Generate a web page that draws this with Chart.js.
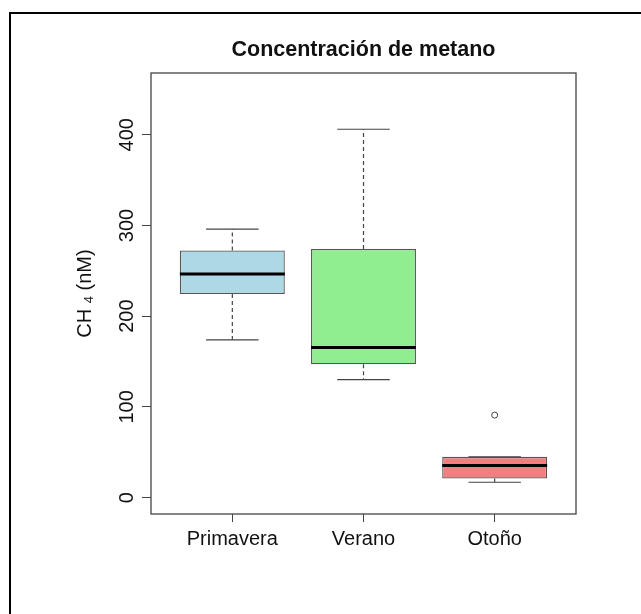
<!DOCTYPE html>
<html>
<head>
<meta charset="utf-8">
<script src="https://cdn.jsdelivr.net/npm/chart.js@4.4.1/dist/chart.umd.min.js"></script>
<style>
  html, body { margin: 0; padding: 0; background: #fff; }
  #wrap { width: 641px; height: 614px; }
</style>
</head>
<body>
<div id="wrap"><canvas id="chart" width="641" height="614"></canvas></div>
<script>
// Box plot values (nM)
const seasons = ['Primavera', 'Verano', 'Otoño'];
const lowerWhisker = [174, 130, 17];
const firstQuartile = [224.5, 147, 21];
const medians = [246.5, 165.5, 35.5];
const thirdQuartile = [272.5, 274, 45];
const upperWhisker = [296, 406, 45];
const outliers = [[], [], [91]];
const yTicks = [0, 100, 200, 300, 400];
const boxColors = ['#ADD8E6', '#90EE90', '#F08080'];

const FONT = '"Liberation Sans", Arial, sans-serif';
const positions = seasons.map((s, i) => i + 1);
const boxHalf = 0.4;
const capHalf = 0.2;

// Build the datasets from the arrays above
const boxData = positions.map((x, i) => ({ x: x, y: [firstQuartile[i], thirdQuartile[i]] }));

const medianData = [];
const whiskerData = [];
const capData = [];
const outlierData = [];
positions.forEach((x, i) => {
  medianData.push({ x: x - boxHalf, y: medians[i] }, { x: x + boxHalf, y: medians[i] }, { x: x + 0.5, y: null });

  whiskerData.push({ x: x, y: thirdQuartile[i] }, { x: x, y: upperWhisker[i] }, { x: x, y: null });
  whiskerData.push({ x: x, y: firstQuartile[i] }, { x: x, y: lowerWhisker[i] }, { x: x, y: null });

  capData.push({ x: x - capHalf, y: upperWhisker[i] }, { x: x + capHalf, y: upperWhisker[i] }, { x: x + 0.5, y: null });
  capData.push({ x: x - capHalf, y: lowerWhisker[i] }, { x: x + capHalf, y: lowerWhisker[i] }, { x: x + 0.5, y: null });

  outliers[i].forEach(v => outlierData.push({ x: x, y: v }));
});

// Titles, tick labels and frames drawn the way R lays them out
const rPlotPlugin = {
  id: 'rPlot',
  afterDraw(chart) {
    const ctx = chart.ctx;
    const area = chart.chartArea;
    const xs = chart.scales.x;
    const ys = chart.scales.y;

    ctx.save();
    // plot box
    ctx.strokeStyle = '#444';
    ctx.lineWidth = 1.3;
    ctx.strokeRect(area.left, area.top, area.right - area.left, area.bottom - area.top);

    // outer frame (only left and top edges are in view)
    ctx.fillStyle = '#000';
    ctx.fillRect(9, 12, 2, 602);
    ctx.fillRect(9, 12, 632, 2);

    ctx.fillStyle = '#111';
    // title
    ctx.font = 'bold 21.5px ' + FONT;
    ctx.textAlign = 'center';
    ctx.textBaseline = 'alphabetic';
    ctx.fillText('Concentración de metano', (area.left + area.right) / 2, 56);

    // x tick labels
    ctx.font = '20px ' + FONT;
    seasons.forEach((s, i) => {
      ctx.fillText(s, xs.getPixelForValue(positions[i]), area.bottom + 30.5);
    });

    // y tick labels, parallel to the axis
    yTicks.forEach(v => {
      ctx.save();
      ctx.translate(area.left - 18.5, ys.getPixelForValue(v));
      ctx.rotate(-Math.PI / 2);
      ctx.fillText(String(v), 0, 0);
      ctx.restore();
    });

    // y axis title with subscript
    ctx.save();
    ctx.translate(area.left - 60.5, (area.top + area.bottom) / 2);
    ctx.rotate(-Math.PI / 2);
    const mainFont = '20px ' + FONT;
    const subFont = '13px ' + FONT;
    ctx.font = mainFont;
    const wCH = ctx.measureText('CH ').width;
    const wRest = ctx.measureText(' (nM)').width;
    ctx.font = subFont;
    const w4 = ctx.measureText('4').width;
    let px = -(wCH + w4 + wRest) / 2;
    ctx.textAlign = 'left';
    ctx.font = mainFont;
    ctx.fillText('CH ', px, 0);
    px += wCH;
    ctx.font = subFont;
    ctx.fillText('4', px, 2);
    px += w4;
    ctx.font = mainFont;
    ctx.fillText(' (nM)', px, 0);
    ctx.restore();

    ctx.restore();
  }
};

const ctx = document.getElementById('chart').getContext('2d');
const chart = new Chart(ctx, {
  type: 'bar',
  data: {
    datasets: [
      {
        type: 'scatter',
        data: outlierData,
        pointRadius: 3,
        pointBackgroundColor: '#fff',
        pointBorderColor: '#444',
        pointBorderWidth: 1,
        order: 0
      },
      {
        type: 'line',
        data: medianData,
        borderColor: '#000',
        borderWidth: 3,
        borderCapStyle: 'butt',
        pointRadius: 0,
        spanGaps: false,
        order: 1
      },
      {
        type: 'line',
        data: capData,
        borderColor: '#444',
        borderWidth: 1.2,
        pointRadius: 0,
        spanGaps: false,
        order: 2
      },
      {
        type: 'line',
        data: whiskerData,
        borderColor: '#444',
        borderWidth: 1.2,
        borderDash: [4, 3],
        borderCapStyle: 'butt',
        pointRadius: 0,
        spanGaps: false,
        order: 3
      },
      {
        type: 'bar',
        data: boxData,
        backgroundColor: boxColors,
        borderColor: '#555',
        borderWidth: 1.3,
        borderSkipped: false,
        categoryPercentage: 1,
        barPercentage: 0.8,
        order: 4
      }
    ]
  },
  options: {
    responsive: false,
    animation: false,
    layout: { padding: { top: 73, right: 65, left: 0, bottom: 0 } },
    plugins: {
      legend: { display: false },
      tooltip: { enabled: false },
      title: { display: false }
    },
    scales: {
      x: {
        type: 'linear',
        min: 0.38,
        max: 3.62,
        offset: false,
        afterBuildTicks: scale => { scale.ticks = positions.map(v => ({ value: v })); },
        afterFit: scale => { scale.height = 100; },
        ticks: { display: false },
        grid: { offset: false, drawOnChartArea: false, drawTicks: true, tickLength: 8, color: '#444', lineWidth: 1 },
        border: { display: false }
      },
      y: {
        type: 'linear',
        min: -18,
        max: 468,
        afterBuildTicks: scale => { scale.ticks = yTicks.map(v => ({ value: v })); },
        afterFit: scale => { scale.width = 151; },
        ticks: { display: false },
        grid: { drawOnChartArea: false, drawTicks: true, tickLength: 9, color: '#444', lineWidth: 1 },
        border: { display: false }
      }
    }
  },
  plugins: [rPlotPlugin]
});
</script>
</body>
</html>
